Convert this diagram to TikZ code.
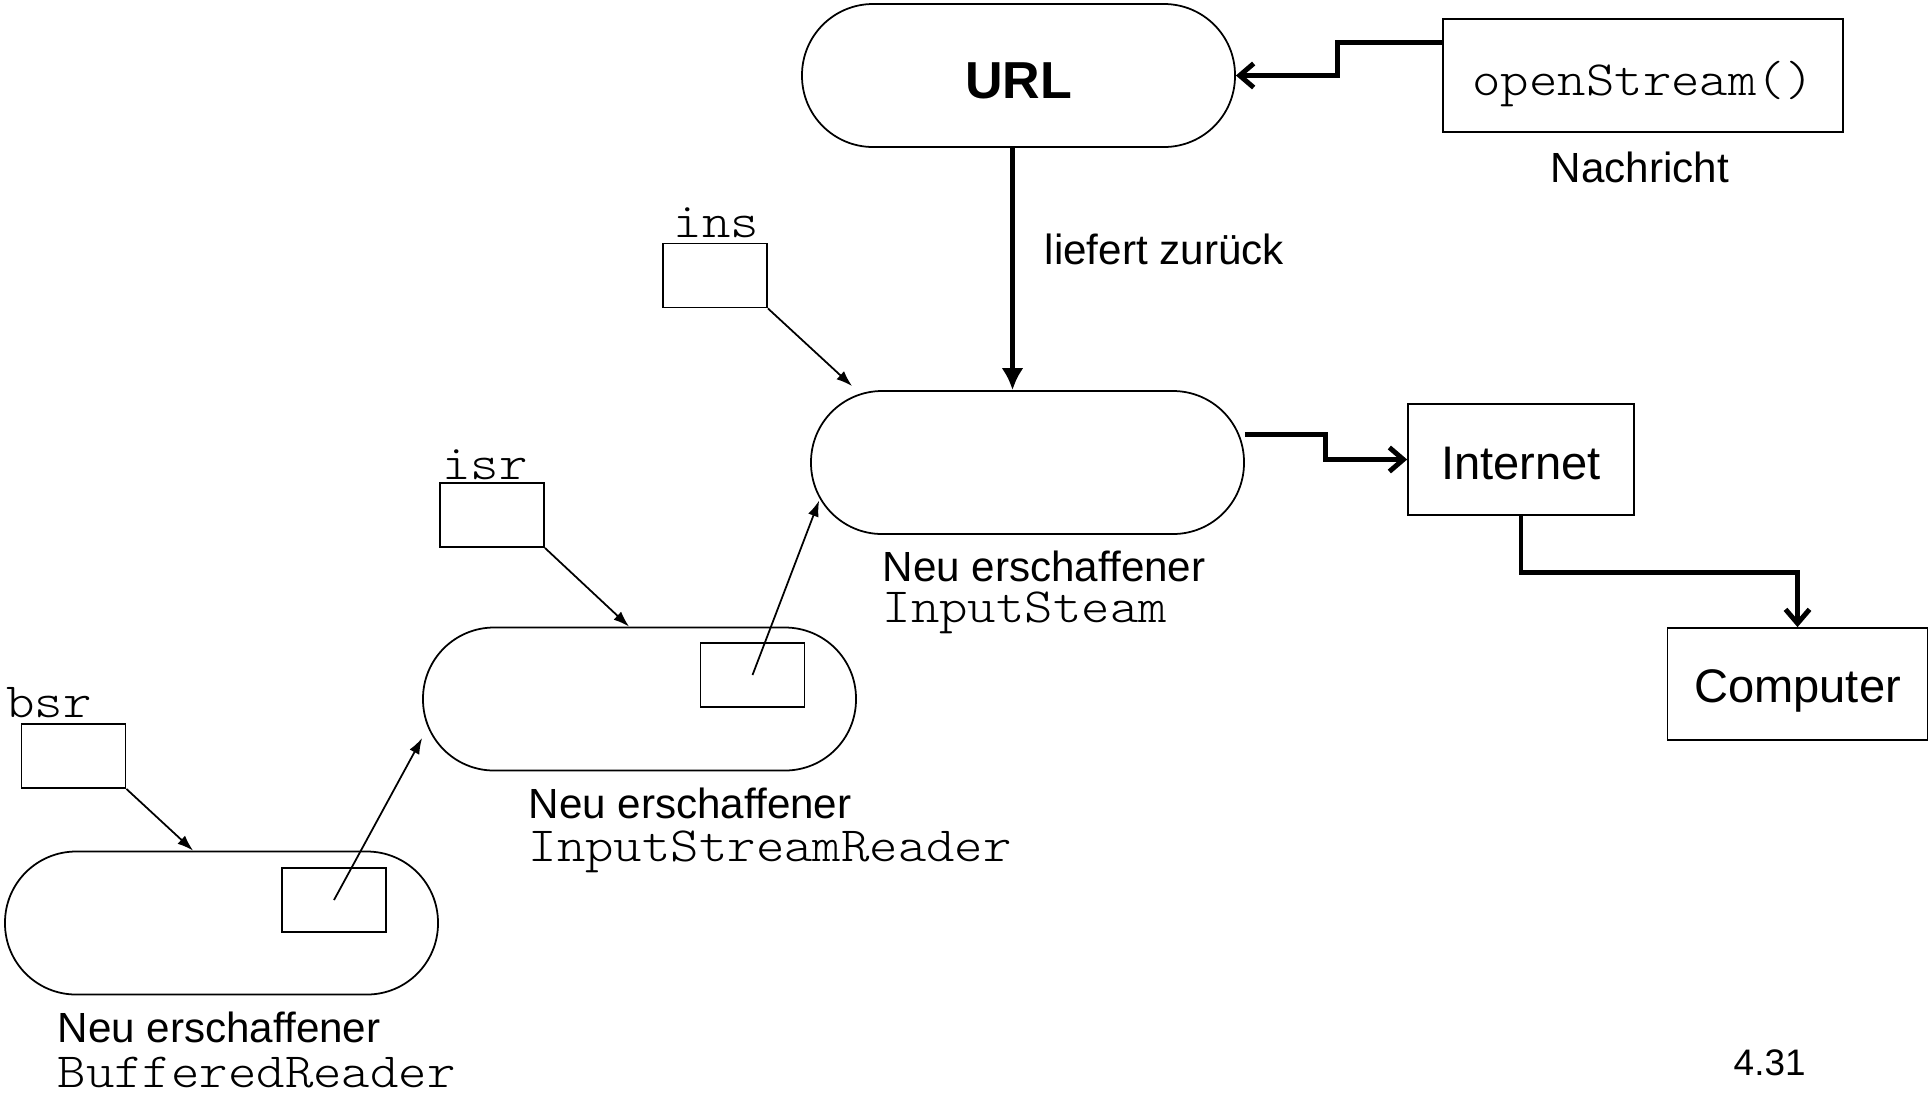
\documentclass[tikz,border=0pt]{standalone}
\usepackage{fontspec}
\setmainfont{Liberation Sans}
\setmonofont[FakeStretch=1.1]{Latin Modern Mono Light}
\usetikzlibrary{arrows.meta}

\tikzset{
    objekt/.style={draw, line width=0.5pt, rounded corners=7.1mm, minimum width=4.33cm, minimum height=1.43cm, inner sep=0pt},
    kasten/.style={draw, line width=0.5pt, inner sep=0pt},
    zeiger/.style={kasten, minimum width=1.04cm, minimum height=0.64cm},
    verweis/.style={line width=0.5pt, -{Latex[length=1.6mm, width=1.1mm]}},
    fluss/.style={line width=1.4pt, -{Straight Barb[length=1.4mm, width=2.4mm]}},
    beschrift/.style={inner sep=0pt, font=\fontsize{12}{14}\selectfont},
    klasse/.style={inner sep=0pt, font=\ttfamily\fontsize{14}{16}\selectfont},
    gross/.style={font=\fontsize{13.4}{16}\selectfont, text depth=0pt},
}

\begin{document}
\begin{tikzpicture}
    \useasboundingbox (0, 0) rectangle (19.29, -10.96);

    % URL + Nachricht:
    \node[objekt, font=\bfseries\fontsize{14.8}{17}\selectfont, text height=4.5mm, text depth=0pt] (url) at (10.185, -0.755) {URL};
    \node[kasten, klasse, minimum width=4.0cm, minimum height=1.13cm, text height=3.9mm, text depth=0pt] (msg) at (16.43, -0.755) {openStream()};
    \node[beschrift, anchor=base] (msglabel) at (16.40, -1.82) {Nachricht};
    \draw[fluss] ([yshift=3.3mm]msg.west) -- ++(-1.05, 0) |- (url.east);

    % InputStream:
    \node[objekt] (instream) at (10.275, -4.625) {};
    \coordinate (urlfuss) at ([xshift=-0.6mm]url.south);
    \draw[line width=1.4pt, -{Latex[length=2.2mm, width=2.2mm]}] (urlfuss) -- (urlfuss |- instream.north);
    \node[beschrift, anchor=base west] (liefert) at (10.44, -2.64) {liefert zurück};
    \node[beschrift, anchor=base west] (instreamcap) at (8.82, -5.81) {Neu erschaffener};
    \node[klasse, anchor=base west] (instreamcls) at (8.82, -6.22) {InputSteam};

    % Internet, Computer:
    \node[kasten, gross, text height=3.9mm, minimum width=2.26cm, minimum height=1.11cm] (internet) at (15.21, -4.595) {Internet};
    \node[kasten, gross, text height=3.6mm, minimum width=2.60cm, minimum height=1.12cm] (computer) at (17.975, -6.84) {Computer};
    \draw[fluss] ([yshift=2.8mm]instream.east) -- ++(0.81, 0) |- (internet.west);
    \draw[fluss] (internet.south) -- ++(0, -0.57) -| (computer.north);

    % ins:
    \node[zeiger] (insbox) at (7.15, -2.755) {};
    \node[klasse, anchor=base] (inslabel) at (7.165, -2.37) {ins};
    \draw[verweis] (insbox.south east) -- ([xshift=4.2mm, yshift=0.4mm]instream.north west);

    % isr:
    \node[objekt] (isrnode) at (6.395, -6.99) {};
    \node[zeiger] (isrptr) at (7.525, -6.75) {};
    \node[zeiger] (isrbox) at (4.92, -5.15) {};
    \node[klasse, anchor=base] (isrlabel) at (4.85, -4.79) {isr};
    \draw[verweis] (isrbox.south east) -- ([xshift=20.7mm]isrnode.north west);
    \draw[verweis] (isrptr.center) -- ([xshift=0.9mm, yshift=-3.8mm]instream.west);
    \node[beschrift, anchor=base west] (isrcap) at (5.28, -8.18) {Neu erschaffener};
    \node[klasse, anchor=base west] (isrcls) at (5.28, -8.61) {InputStreamReader};

    % bsr:
    \node[objekt] (brnode) at (2.215, -9.23) {};
    \node[zeiger] (brptr) at (3.34, -9.0) {};
    \node[zeiger] (bsrbox) at (0.735, -7.56) {};
    \node[klasse, anchor=base] (bsrlabel) at (0.49, -7.17) {bsr};
    \draw[verweis] (bsrbox.south east) -- ([xshift=18.9mm]brnode.north west);
    \draw[verweis] (brptr.center) -- ([yshift=-3.9mm]isrnode.west);
    \node[beschrift, anchor=base west] (brcap) at (0.57, -10.42) {Neu erschaffener};
    \node[klasse, anchor=base west] (brcls) at (0.57, -10.87) {BufferedReader};

    % Seite:
    \node[inner sep=0pt, font=\fontsize{10.5}{12}\selectfont, anchor=base west] (seite) at (17.33, -10.75) {4.31};
\end{tikzpicture}
\end{document}
